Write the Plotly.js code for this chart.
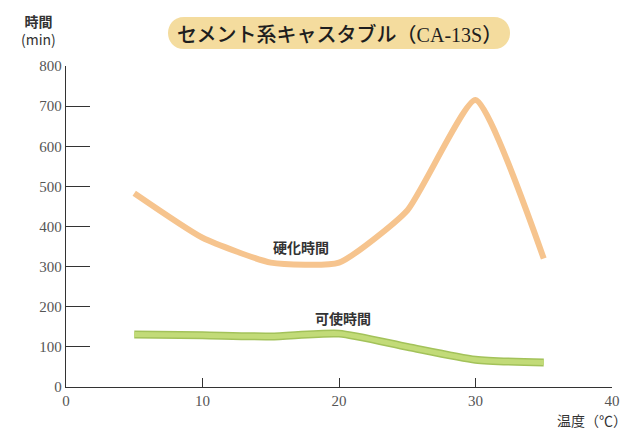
<!DOCTYPE html>
<html><head><meta charset="utf-8">
<script src="https://cdn.plot.ly/plotly-3.0.1.min.js"></script>
<style>html,body{margin:0;padding:0;background:#fff}#c{width:629px;height:430px}</style>
</head><body><div id="c"></div>
<script>
const temps = [5, 10, 15, 20, 25, 30, 35];
const hardening = [483, 372, 310, 310, 440, 715, 320];
const potLife = [131, 129, 126, 133, 100, 68, 61];
const xTicks = [0, 10, 20, 30, 40];
const yTicks = [0, 100, 200, 300, 400, 500, 600, 700, 800];
const titleText = 'セメント系キャスタブル（<span style="font-family:Liberation Serif">CA-13S</span>）';
const labelHard = '硬化時間';
const labelPot = '可使時間';

const cjk = '"Noto Sans CJK JP", "Noto Sans", sans-serif';
const traces = [
  {x: temps, y: hardening, mode: 'lines', line: {color: '#F6C48E', width: 6, shape: 'spline', smoothing: 0.5}, hoverinfo: 'skip'},
  {x: temps, y: potLife, mode: 'lines', line: {color: '#A3C25A', width: 8, shape: 'spline', smoothing: 0.6}, hoverinfo: 'skip'},
  {x: temps, y: potLife, mode: 'lines', line: {color: '#C2DB78', width: 5, shape: 'spline', smoothing: 0.6}, hoverinfo: 'skip'}
];
const R = 16, H = 155, K = R * 4 / 3;
const pill = `M ${-H},${-R} L ${H},${-R} C ${H + K},${-R} ${H + K},${R} ${H},${R} L ${-H},${R} C ${-H - K},${R} ${-H - K},${-R} ${-H},${-R} Z`;
const layout = {
  width: 629, height: 430,
  margin: {l: 66, r: 17, t: 66, b: 43},
  paper_bgcolor: '#fff', plot_bgcolor: '#fff',
  showlegend: false,
  xaxis: {range: [0, 40], tickvals: xTicks, ticktext: xTicks.map(String), showgrid: false, zeroline: false,
    showline: true, linecolor: '#333', linewidth: 1.2, ticks: 'inside', ticklen: 9, tickcolor: '#333', tickwidth: 1,
    tickfont: {family: 'Liberation Serif', size: 15, color: '#555'}, fixedrange: true},
  yaxis: {range: [0, 800], tickvals: yTicks, ticktext: yTicks.map(String), showgrid: false, zeroline: false,
    showline: true, linecolor: '#333', linewidth: 1.2, ticks: 'inside', ticklen: 24, tickcolor: '#333', tickwidth: 1.2,
    tickfont: {family: 'Liberation Serif', size: 15, color: '#555'}, fixedrange: true},
  shapes: [{type: 'path', xref: 'paper', yref: 'paper', xsizemode: 'pixel', ysizemode: 'pixel',
    xanchor: (339 - 66) / 546, yanchor: (387 - 33) / 321,
    path: pill, fillcolor: '#F4DC9E', line: {width: 0}, layer: 'below'}],
  annotations: [
    {xref: 'paper', yref: 'paper', x: (339 - 66) / 546, y: (387 - 33) / 321, xanchor: 'center', yanchor: 'middle',
      text: titleText, showarrow: false, font: {family: cjk, size: 20, color: '#1e1e1e', weight: 500}},
    {xref: 'paper', yref: 'paper', x: (38 - 66) / 546, y: (387 - 30) / 321, xanchor: 'center', yanchor: 'middle',
      text: '<b>時間</b><br>(min)', showarrow: false, font: {family: cjk, size: 14, color: '#333'}},
    {xref: 'paper', yref: 'paper', x: (629 - 66) / 546, y: (387 - 420) / 321, xanchor: 'right', yanchor: 'middle',
      text: '温度（℃）', showarrow: false, font: {family: cjk, size: 14, color: '#333'}},
    {x: 17.2, y: 350, text: '<b>' + labelHard + '</b>', showarrow: false, font: {family: cjk, size: 14, color: '#333'}},
    {x: 20.3, y: 172, text: '<b>' + labelPot + '</b>', showarrow: false, font: {family: cjk, size: 14, color: '#333'}}
  ]
};
Plotly.newPlot('c', traces, layout, {displayModeBar: false, staticPlot: true});
</script></body></html>
